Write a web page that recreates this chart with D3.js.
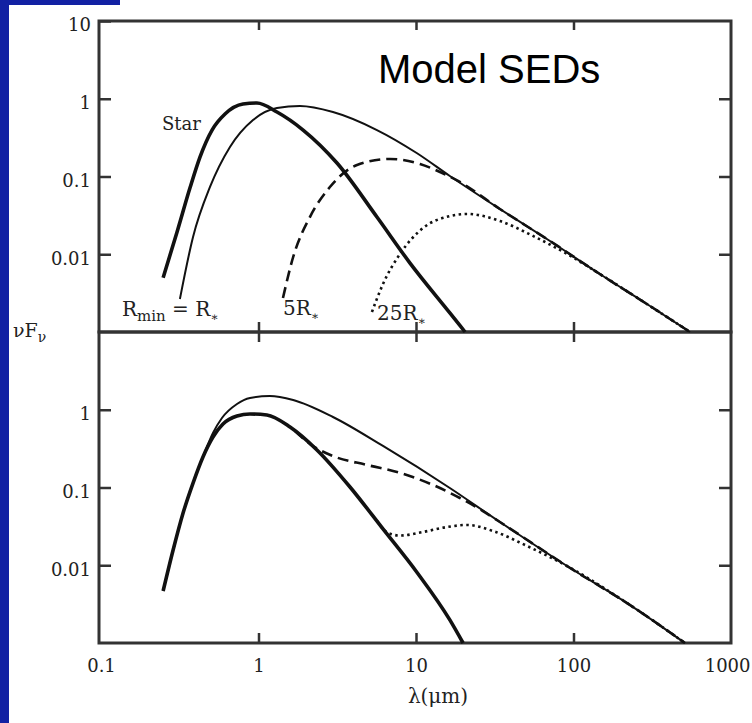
<!DOCTYPE html>
<html>
<head>
<meta charset="utf-8">
<script src="https://d3js.org/d3.v7.min.js"></script>
<title>Model SEDs</title>
<style>
  body { margin: 0; background: #fff; }
  .tick text { font-family: "DejaVu Serif", serif; font-size: 18px; fill: #222; }
  .tick line { stroke: #333; stroke-width: 2.5px; }
  .frame { fill: none; stroke: #333; stroke-width: 3px; }
  .sed { fill: none; stroke: #111; stroke-linejoin: round; }
  .serif { font-family: "DejaVu Serif", serif; fill: #222; }
</style>
</head>
<body>
<svg id="chart" width="752" height="723"></svg>
<script>
// tick values
var wavelengthTicks = [0.1, 1, 10, 100, 1000];
var fluxTicksTop = [10, 1, 0.1, 0.01];
var fluxTicksBottom = [1, 0.1, 0.01];

// [lambda (um), nuF_nu] -- top panel
var topStar = [[0.248,0.0050],[0.304,0.0193],[0.367,0.071],[0.425,0.178],[0.507,0.396],[0.613,0.637],[0.797,0.856],[0.978,0.882],[1.31,0.675],[1.92,0.396],[3.15,0.149],[5.65,0.0301],[9.16,0.0077],[16.4,0.00176],[20.5,0.001]];
var topRmin1 = [[0.317,0.00266],[0.384,0.0167],[0.492,0.0733],[0.659,0.240],[0.923,0.533],[1.31,0.760],[1.83,0.807],[2.97,0.675],[5.65,0.396],[10.1,0.2006],[16.4,0.1015],[34.1,0.0382],[70.9,0.0148],[147,0.00557],[306,0.00216],[549,0.001]];
var topRmin5 = [[1.43,0.00274],[1.66,0.00922],[2.12,0.0301],[2.84,0.0733],[4.22,0.1406],[6.84,0.168],[10.6,0.1448],[14.2,0.1143],[19.0,0.085],[34.1,0.0382],[70.9,0.0148],[147,0.00557],[306,0.00216],[549,0.001]];
var topRmin25 = [[5.25,0.00181],[6.17,0.00414],[7.91,0.0101],[11.1,0.0218],[16.4,0.031],[21.1,0.033],[34.1,0.0268],[55.3,0.0172],[90.9,0.0101],[147,0.00557],[306,0.00216],[549,0.001]];

// bottom panel
var botStar = [[0.248,0.00466],[0.287,0.0157],[0.332,0.047],[0.384,0.114],[0.444,0.247],[0.514,0.446],[0.595,0.656],[0.730,0.831],[0.883,0.882],[1.13,0.856],[1.585,0.60],[2.35,0.304],[3.81,0.1015],[6.17,0.0293],[10.1,0.00819],[16.4,0.00198],[19.9,0.001]];
var botRmin1 = [[0.248,0.00466],[0.287,0.0157],[0.332,0.047],[0.384,0.114],[0.444,0.247],[0.514,0.502],[0.586,0.783],[0.730,1.186],[0.883,1.416],[1.18,1.502],[1.66,1.335],[2.97,0.807],[6.17,0.342],[16.4,0.0986],[34.1,0.036],[90.9,0.00978],[239,0.0029],[510,0.001]];
var botRmin5 = [[1.705,0.533],[2.12,0.363],[2.97,0.254],[4.89,0.195],[7.91,0.154],[12.8,0.108],[19.0,0.0733],[26.6,0.0498],[34.1,0.036],[90.9,0.00978],[239,0.0029],[510,0.001]];
var botRmin25 = [[5.65,0.0371],[6.64,0.026],[7.91,0.0241],[11.1,0.0268],[15.7,0.031],[21.1,0.033],[30.8,0.0276],[50.7,0.0177],[90.9,0.00978],[239,0.0029],[510,0.001]];

var svg = d3.select("#chart");

// blue slide decoration
svg.append("rect").attr("x", 0).attr("y", 0).attr("width", 9).attr("height", 723).attr("fill", "#1221a3");
svg.append("rect").attr("x", 0).attr("y", 0).attr("width", 120).attr("height", 5).attr("fill", "#1221a3");

var left = 99, right = 731, top1 = 21, mid = 332, bottom = 643;

var x = d3.scaleLog().domain([0.1, 1000]).range([101, right]);
var yTop = d3.scaleLog().domain([0.001, 10]).range([mid, top1]);
var yBot = d3.scaleLog().domain([0.001, 10]).range([bottom, mid]);

function fmt(d) { return String(d); }

function styleAxis(g) {
  g.select(".domain").remove();
}

// top panel axes
svg.append("g").attr("transform", "translate(" + left + ",0)")
  .call(d3.axisLeft(yTop).tickValues(fluxTicksTop).tickFormat(fmt).tickSize(-12).tickPadding(8))
  .call(styleAxis)
  .selectAll("text").attr("dy", "0.55em");
svg.append("g").attr("transform", "translate(" + right + ",0)")
  .call(d3.axisRight(yTop).tickValues([1, 0.1, 0.01]).tickFormat("").tickSize(-12))
  .call(styleAxis);
svg.append("g").attr("transform", "translate(0," + top1 + ")")
  .call(d3.axisTop(x).tickValues([1, 10, 100]).tickFormat("").tickSize(-9))
  .call(styleAxis);
svg.append("g").attr("transform", "translate(0," + mid + ")")
  .call(d3.axisBottom(x).tickValues([1, 10, 100]).tickFormat("").tickSize(-10))
  .call(styleAxis);

// bottom panel axes
svg.append("g").attr("transform", "translate(" + left + ",0)")
  .call(d3.axisLeft(yBot).tickValues(fluxTicksBottom).tickFormat(fmt).tickSize(-12).tickPadding(8))
  .call(styleAxis)
  .selectAll("text").attr("dy", "0.55em");
svg.append("g").attr("transform", "translate(" + right + ",0)")
  .call(d3.axisRight(yBot).tickValues(fluxTicksBottom).tickFormat("").tickSize(-12))
  .call(styleAxis);
svg.append("g").attr("transform", "translate(0," + mid + ")")
  .call(d3.axisTop(x).tickValues([1, 10, 100]).tickFormat("").tickSize(-10))
  .call(styleAxis);
var xAxis = svg.append("g").attr("transform", "translate(0," + bottom + ")")
  .call(d3.axisBottom(x).tickValues(wavelengthTicks).tickFormat(fmt).tickSize(-10).tickPadding(16))
  .call(styleAxis);
xAxis.selectAll(".tick line").filter(function(d) { return d === 0.1 || d === 1000; }).remove();
// last label sits against the window edge, so pull it in
xAxis.selectAll(".tick text").filter(function(d) { return d === 1000; })
  .attr("text-anchor", "end").attr("x", 19);

// frames
svg.append("rect").attr("class", "frame").attr("x", left).attr("y", top1).attr("width", right - left).attr("height", mid - top1);
svg.append("rect").attr("class", "frame").attr("x", left).attr("y", mid).attr("width", right - left).attr("height", bottom - mid);

function drawCurve(data, y, width, dash) {
  var line = d3.line()
    .x(function(d) { return x(d[0]); })
    .y(function(d) { return y(d[1]); })
    .curve(d3.curveMonotoneX);
  svg.append("path")
    .datum(data)
    .attr("class", "sed")
    .attr("d", line)
    .attr("stroke-width", width)
    .attr("stroke-dasharray", dash || null);
}

drawCurve(topRmin25, yTop, 2.6, "2.5,3.5");
drawCurve(topRmin5, yTop, 2.6, "11,6");
drawCurve(topRmin1, yTop, 2);
drawCurve(topStar, yTop, 3.6);

drawCurve(botRmin25, yBot, 2.6, "2.5,3.5");
drawCurve(botRmin5, yBot, 2.6, "11,6");
drawCurve(botRmin1, yBot, 2);
drawCurve(botStar, yBot, 3.6);

// labels
svg.append("text").attr("x", 378).attr("y", 83)
  .attr("font-family", "'Liberation Sans', Arial, sans-serif").attr("font-size", 40).attr("fill", "#000")
  .text("Model SEDs");

svg.append("text").attr("class", "serif").attr("x", 162).attr("y", 130).attr("font-size", 18).text("Star");

var rmin = svg.append("text").attr("class", "serif").attr("x", 122).attr("y", 316).attr("font-size", 20);
rmin.append("tspan").text("R");
rmin.append("tspan").attr("font-size", 15).attr("dy", 5).text("min");
rmin.append("tspan").attr("dy", -5).text(" = R");
rmin.append("tspan").attr("font-size", 12).attr("dy", 5).text("∗");

var r5 = svg.append("text").attr("class", "serif").attr("x", 283).attr("y", 315).attr("font-size", 20);
r5.append("tspan").text("5R");
r5.append("tspan").attr("font-size", 12).attr("dy", 5).text("∗");

var r25 = svg.append("text").attr("class", "serif").attr("x", 377).attr("y", 320).attr("font-size", 20);
r25.append("tspan").text("25R");
r25.append("tspan").attr("font-size", 12).attr("dy", 5).text("∗");

var ylab = svg.append("text").attr("class", "serif").attr("x", 13).attr("y", 337).attr("font-size", 19);
ylab.append("tspan").text("νF");
ylab.append("tspan").attr("font-size", 14).attr("dy", 5).text("ν");

svg.append("text").attr("class", "serif").attr("x", 438).attr("y", 703).attr("font-size", 20)
  .attr("text-anchor", "middle").text("λ(μm)");
</script>
</body>
</html>
